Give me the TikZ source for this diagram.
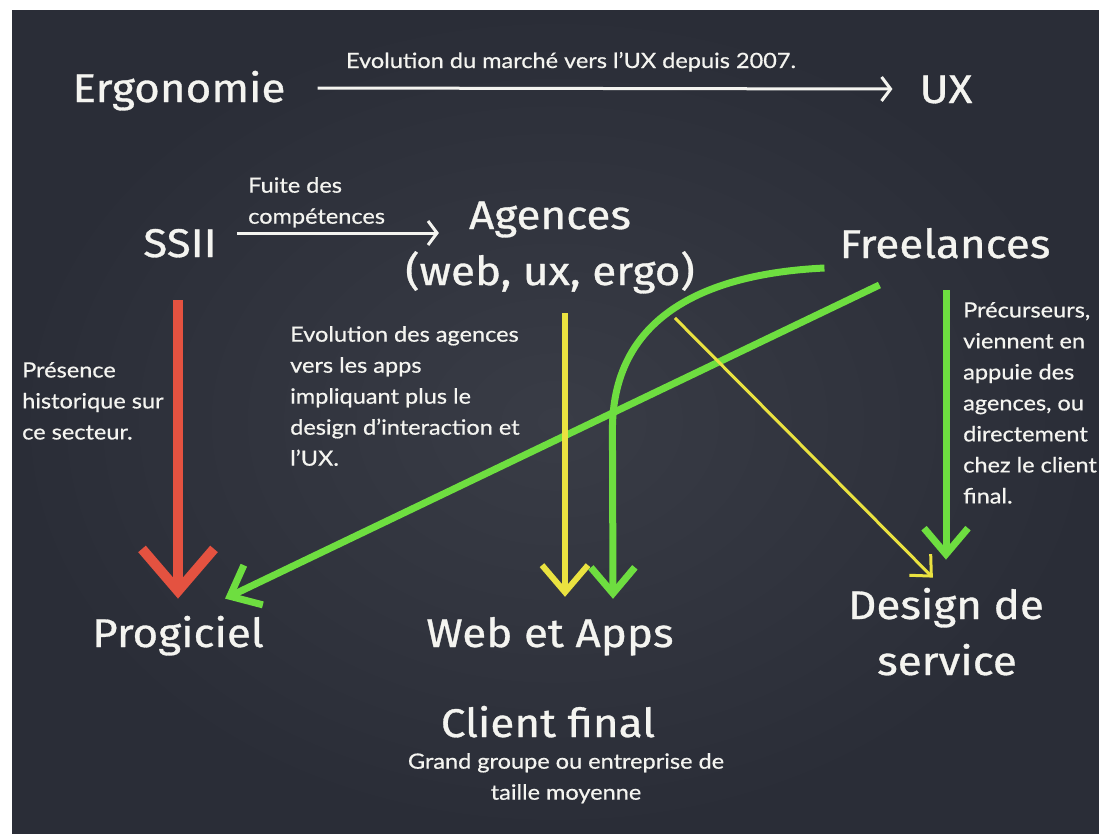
\documentclass[tikz,border=0pt]{standalone}
\usepackage{fontspec}
\setmainfont{Fira Sans}
\newfontfamily\titlefont[FakeStretch = 1.1, FakeBold = 0.8]{Fira Sans}
\newfontfamily\notefont[FakeStretch = 1.12, FakeBold = 0.6]{Lato}
\usetikzlibrary{arrows.meta,calc}

\definecolor{board}{RGB}{42,45,55}
\definecolor{boardlight}{RGB}{57,60,70}
\definecolor{chalk}{RGB}{244,244,240}
\definecolor{chalkred}{RGB}{228,82,64}
\definecolor{chalkgreen}{RGB}{110,222,64}
\definecolor{chalkyellow}{RGB}{234,226,64}

\begin{document}
\begin{tikzpicture}
    [
    x = 1pt, y = -1pt,
    title/.style = {text = chalk, anchor = base, inner sep = 0pt, font = \titlefont\fontsize{40}{42}\selectfont},
    note/.style = {text = chalk, align = left, anchor = north west, inner sep = 0pt, font = \notefont\fontsize{21}{31}\selectfont},
    ]
    \tikzstyle{white arrow}=[chalk, line width = 3pt, -{Straight Barb[length = 9pt, width = 24pt]}]
    \tikzstyle{red arrow}=[chalkred, line width = 10pt, -{Straight Barb[length = 42pt, width = 72pt]}]
    \tikzstyle{green arrow}=[chalkgreen, line width = 7pt, -{Straight Barb[length = 26pt, width = 44pt]}]
    \tikzstyle{yellow arrow}=[chalkyellow, line width = 6pt, -{Straight Barb[length = 27pt, width = 46pt]}]
    \tikzstyle{thin yellow arrow}=[chalkyellow, line width = 3pt, -{Straight Barb[length = 16pt, width = 30pt]}]

    % the board
    \fill[white] (0,0) rectangle (1099,833);
    \shade[inner color = boardlight, outer color = board] (12,10) rectangle (1099,833);
    \useasboundingbox (0,0) rectangle (1099,833);

    % top line
    \node[title] (ergonomie) at (179,102) {Ergonomie};
    \node[title] (ux) at (946,103) {UX};
    \node[note, anchor = base] (marche) at (571,68) {Evolution du marché vers l’UX depuis 2007.};

    % who does it
    \node[title] (ssii) at (180,257) {SSII};
    \node[note] (fuite) at (248,177) {Fuite des\\compétences};
    \node[title] (agences) at (550,229) {Agences};
    \node[title] (agtypes) at (550,285) {(web, ux, ergo)};
    \node[title] (freelances) at (945,258) {Freelances};

    % markets
    \node[title] (progiciel) at (178,647) {Progiciel};
    \node[title] (webapps) at (550,647) {Web et Apps};
    \node[title] (design) at (946,619) {Design de};
    \node[title] (service) at (947,675) {service};
    \node[title] (client) at (548,737) {Client final};
    \node[note, align = center, anchor = north] (groupe) at (566,753) {Grand groupe ou entreprise de\\taille moyenne};

    % comments
    \node[note] (presence) at (22,362) {Présence\\historique sur\\ce secteur.};
    \node[note] (evolution) at (290,326) {Evolution des agences\\vers les apps\\impliquant plus le\\design d’interaction et\\l’UX.};
    \node[note] (precurseurs) at (963,302) {Précurseurs,\\viennent en\\appuie des\\agences, ou\\directement\\chez le client\\final.};

    % arrows
    \draw[white arrow] ([xshift = 32pt, yshift = 14pt]ergonomie.base east) -- ([xshift = -27pt, yshift = 14pt]ux.base west);
    \draw[white arrow] ($(ssii.base east)+(20,-24)$) -- ($(ssii.base east -| agences.base west)+(-30,-24)$);
    \draw[red arrow] ($(ssii.base)+(-2,43)$) -- ($(ssii.base |- progiciel.north)+(-2,-17)$);
    \draw[green arrow] ($(freelances.base west)+(40,27)$) -- ($(progiciel.north east)+(-39,-17)$);
    \draw[green arrow] ($(freelances.base west)+(-15,10)$) .. controls +(-125,6) and +(0,-110) .. ++(-212,162) -- ($(webapps.north)+(63,-18)$);
    \draw[yellow arrow] ($(agtypes.base)+(15,28)$) -- ($(webapps.north)+(15,-20)$);
    \draw[thin yellow arrow] ($(agtypes.base east)+(-20,33)$) -- ($(design.north west)+(85,-10)$);
    \draw[green arrow] ($(freelances.base)+(1,32)$) -- ($(design.north)+(0,-28)$);
\end{tikzpicture}
\end{document}
